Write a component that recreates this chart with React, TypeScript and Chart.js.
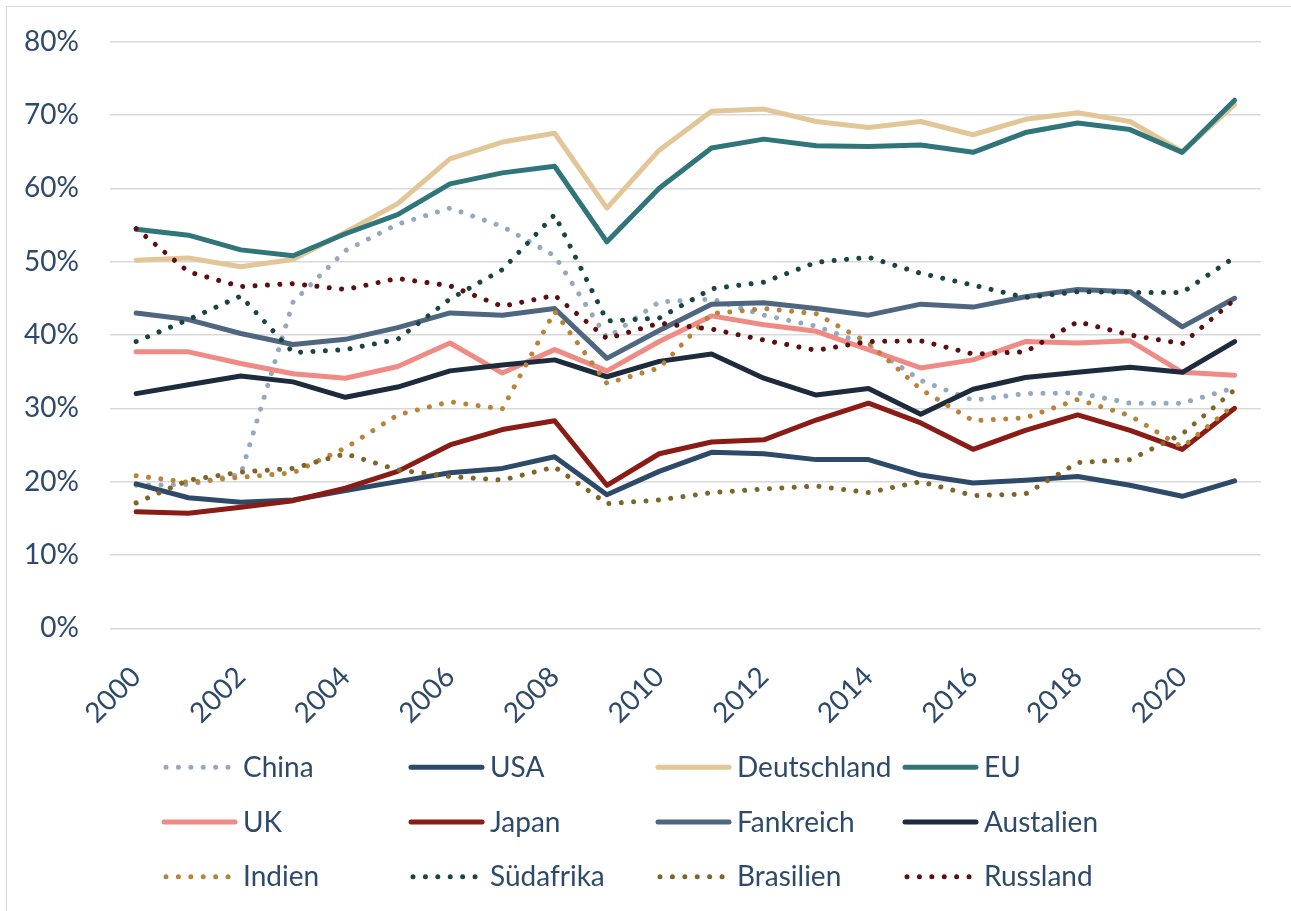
import React, { useEffect, useRef } from 'react';
import { Chart, registerables } from 'chart.js';

Chart.register(...registerables);

const years = ['2000','2001','2002','2003','2004','2005','2006','2007','2008','2009','2010','2011','2012','2013','2014','2015','2016','2017','2018','2019','2020','2021'];

const china = [19.5, 19.6, 21.0, 44.5, 51.5, 55.1, 57.3, 54.8, 50.8, 39.6, 44.5, 44.9, 42.7, 41.2, 38.6, 33.8, 31.1, 32.0, 32.1, 30.7, 30.7, 32.8];
const usa = [19.7, 17.8, 17.2, 17.5, 18.8, 20.0, 21.2, 21.8, 23.4, 18.2, 21.4, 24.0, 23.8, 23.0, 23.0, 20.9, 19.8, 20.2, 20.7, 19.5, 18.0, 20.1];
const deutschland = [50.2, 50.5, 49.3, 50.3, 54.0, 57.9, 64.0, 66.3, 67.5, 57.3, 65.2, 70.5, 70.8, 69.1, 68.3, 69.1, 67.3, 69.4, 70.3, 69.1, 65.0, 71.4];
const eu = [54.4, 53.6, 51.6, 50.8, 53.8, 56.4, 60.6, 62.1, 63.0, 52.7, 60.0, 65.5, 66.7, 65.8, 65.7, 65.9, 64.9, 67.6, 68.9, 68.0, 64.9, 72.0];
const uk = [37.7, 37.7, 36.1, 34.7, 34.1, 35.7, 38.9, 34.8, 38.0, 35.1, 39.1, 42.6, 41.4, 40.5, 38.0, 35.5, 36.6, 39.1, 38.9, 39.2, 34.9, 34.5];
const japan = [15.9, 15.7, 16.5, 17.4, 19.1, 21.4, 25.0, 27.1, 28.3, 19.5, 23.8, 25.4, 25.7, 28.4, 30.7, 28.0, 24.4, 27.0, 29.1, 27.0, 24.4, 30.0];
const frankreich = [43.0, 42.1, 40.2, 38.7, 39.4, 41.0, 43.0, 42.7, 43.6, 36.8, 40.6, 44.2, 44.4, 43.6, 42.7, 44.2, 43.8, 45.2, 46.2, 45.9, 41.1, 45.0];
const australien = [32.0, 33.2, 34.4, 33.6, 31.5, 32.9, 35.1, 35.9, 36.6, 34.3, 36.4, 37.4, 34.1, 31.8, 32.7, 29.2, 32.6, 34.2, 34.9, 35.6, 34.9, 39.1];
const indien = [20.8, 19.9, 20.6, 21.2, 24.6, 29.1, 30.9, 29.9, 43.2, 33.4, 35.5, 42.9, 43.6, 42.9, 38.9, 32.6, 28.3, 28.7, 31.2, 29.0, 24.7, 30.5];
const suedafrika = [39.1, 42.1, 45.3, 37.6, 38.0, 39.4, 44.9, 48.9, 56.4, 41.9, 42.3, 46.3, 47.2, 49.9, 50.6, 48.4, 46.8, 45.1, 45.9, 45.8, 45.8, 50.6];
const brasilien = [17.1, 20.2, 21.3, 21.8, 23.8, 21.6, 20.7, 20.2, 22.0, 17.0, 17.5, 18.5, 19.0, 19.4, 18.5, 20.0, 18.1, 18.3, 22.6, 23.0, 26.5, 32.5];
const russland = [54.5, 48.6, 46.6, 47.0, 46.2, 47.7, 46.7, 43.9, 45.4, 39.5, 41.6, 40.8, 39.3, 37.9, 39.1, 39.2, 37.4, 37.7, 41.8, 40.0, 38.8, 44.8];

const seriesNames = ['China', 'USA', 'Deutschland', 'EU', 'UK', 'Japan', 'Fankreich', 'Austalien', 'Indien', 'Südafrika', 'Brasilien', 'Russland'];
const seriesValues = [china, usa, deutschland, eu, uk, japan, frankreich, australien, indien, suedafrika, brasilien, russland];
const seriesColors = ['#94a8bf', '#2d4a69', '#e2c698', '#307579', '#ef8a84', '#8a1b15', '#4e6680', '#1e2b3d', '#b8843a', '#1b4545', '#806428', '#5c0f10'];
const seriesDotted = [true, false, false, false, false, false, false, false, true, true, true, true];

const yTicks = [0, 10, 20, 30, 40, 50, 60, 70, 80];

const TEXT_COLOR = '#2e4a6b';
const FONT = 'Lato';
const DOT_DASH = [0.01, 12.4];

const frame = {
  id: 'frame',
  beforeDraw(chart: any) {
    const ctx = chart.ctx;
    ctx.save();
    ctx.fillStyle = '#ffffff';
    ctx.fillRect(0, 0, chart.width, chart.height);
    ctx.strokeStyle = '#d9d9d9';
    ctx.lineWidth = 1.2;
    ctx.beginPath();
    ctx.moveTo(6.5, chart.height);
    ctx.lineTo(6.5, 6.5);
    ctx.lineTo(chart.width, 6.5);
    ctx.stroke();
    ctx.restore();
  },
};

const gridLegend = {
  id: 'gridLegend',
  afterDraw(chart: any) {
    const ctx = chart.ctx;
    const x0 = 164;
    const colW = 247;
    const y0 = 767.3;
    const rowH = 54.7;
    ctx.save();
    chart.data.datasets.forEach((ds: any, i: number) => {
      const col = i % 4;
      const row = Math.floor(i / 4);
      const x = x0 + col * colW;
      const y = y0 + row * rowH;
      ctx.beginPath();
      ctx.lineWidth = ds.borderWidth;
      ctx.strokeStyle = ds.borderColor;
      ctx.lineCap = 'round';
      if (ds.borderDash && ds.borderDash.length) {
        ctx.setLineDash(ds.borderDash);
        ctx.moveTo(x + 2, y);
      } else {
        ctx.setLineDash([]);
        ctx.moveTo(x, y);
      }
      ctx.lineTo(x + 71, y);
      ctx.stroke();
      ctx.setLineDash([]);
      ctx.fillStyle = TEXT_COLOR;
      ctx.font = `28px ${FONT}`;
      ctx.textAlign = 'left';
      ctx.textBaseline = 'alphabetic';
      ctx.fillText(ds.label, x + 79, y + 9.5);
    });
    ctx.restore();
  },
};

export default function App() {
  const ref = useRef<HTMLCanvasElement | null>(null);

  useEffect(() => {
    if (!ref.current) return;
    const datasets = seriesNames.map((name, i) => ({
      label: name,
      data: seriesValues[i],
      borderColor: seriesColors[i],
      backgroundColor: seriesColors[i],
      borderWidth: 5,
      borderDash: seriesDotted[i] ? DOT_DASH : [],
      borderCapStyle: 'round',
      borderJoinStyle: 'round',
      pointRadius: 0,
      pointHoverRadius: 0,
      tension: 0,
      fill: false,
      order: seriesNames.length - i,
    }));

    const chart = new Chart(ref.current, {
      type: 'line',
      data: { labels: years, datasets: datasets as any },
      options: {
        responsive: false,
        maintainAspectRatio: false,
        devicePixelRatio: 1,
        animation: false,
        events: [],
        layout: { padding: { top: 41.6, right: 28, bottom: 172.7, left: 0 } },
        plugins: {
          legend: { display: false },
          tooltip: { enabled: false },
          title: { display: false },
        },
        scales: {
          x: {
            type: 'category',
            offset: true,
            grid: { display: false, drawTicks: false },
            border: { display: false },
            ticks: {
              autoSkip: false,
              maxRotation: 45,
              minRotation: 45,
              padding: 32,
              color: TEXT_COLOR,
              font: { family: FONT, size: 28 },
              callback: (_v: any, i: number) => (i % 2 === 0 ? years[i] : ''),
            },
            afterFit: (s: any) => {
              s.height = 110;
            },
          },
          y: {
            min: yTicks[0],
            max: yTicks[yTicks.length - 1],
            afterBuildTicks: (s: any) => {
              s.ticks = yTicks.map((v) => ({ value: v }));
            },
            grid: { color: '#d9d9d9', lineWidth: 1.5, drawTicks: false },
            border: { display: false },
            ticks: {
              padding: 31,
              color: TEXT_COLOR,
              font: { family: FONT, size: 28 },
              callback: (v: any) => `${v}%`,
            },
            afterFit: (s: any) => {
              s.width = 110;
              s.paddingTop = 0;
              s.paddingBottom = 0;
            },
          },
        },
      },
      plugins: [frame, gridLegend],
    });
    return () => chart.destroy();
  }, []);

  return (
    <div style={{ position: 'absolute', left: 0, top: 0, width: 1291, height: 911, overflow: 'hidden', background: '#fff' }}>
      <canvas ref={ref} width={1291} height={911} style={{ display: 'block', width: 1291, height: 911 }} />
    </div>
  );
}
